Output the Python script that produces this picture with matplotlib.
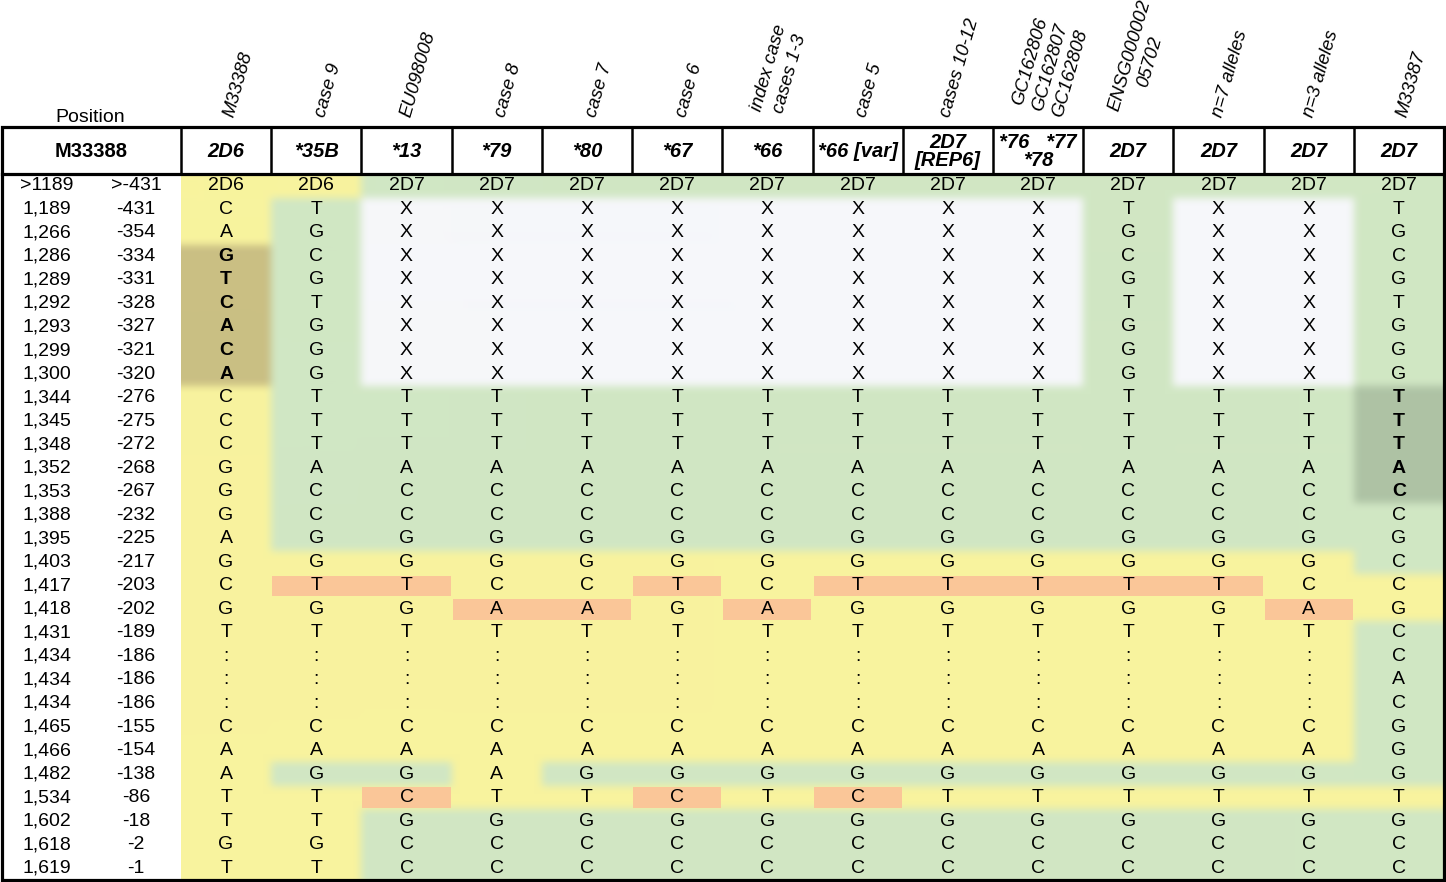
import numpy as np
import matplotlib
matplotlib.use('Agg')
import matplotlib.pyplot as plt
from matplotlib.patches import Rectangle

plt.rcParams['font.family'] = ['Liberation Sans', 'DejaVu Sans']

# column labels (rotated) and allele names in the header row
col_labels = ['M33388', 'case 9', 'EU098008', 'case 8', 'case 7', 'case 6',
              'index case\ncases 1-3', 'case 5', 'cases 10-12',
              'GC162806\nGC162807\nGC162808', 'ENSG000002\n05702',
              'n=7 alleles', 'n=3 alleles', 'M33387']
alleles = ['2D6', '*35B', '*13', '*79', '*80', '*67', '*66', '*66 [var]',
           '2D7\n[REP6]', '*76   *77\n*78', '2D7', '2D7', '2D7', '2D7']

pos_abs = ['>1189', '1,189', '1,266', '1,286', '1,289', '1,292', '1,293', '1,299',
           '1,300', '1,344', '1,345', '1,348', '1,352', '1,353', '1,388', '1,395',
           '1,403', '1,417', '1,418', '1,431', '1,434', '1,434', '1,434', '1,465',
           '1,466', '1,482', '1,534', '1,602', '1,618', '1,619']
pos_rel = ['>-431', '-431', '-354', '-334', '-331', '-328', '-327', '-321',
           '-320', '-276', '-275', '-272', '-268', '-267', '-232', '-225',
           '-217', '-203', '-202', '-189', '-186', '-186', '-186', '-155',
           '-154', '-138', '-86', '-18', '-2', '-1']

origin = ['2D6', '2D6'] + ['2D7'] * 12
bases = [
    'CTXXXXXXXXTXXT', 'AGXXXXXXXXGXXG', 'GCXXXXXXXXCXXC', 'TGXXXXXXXXGXXG',
    'CTXXXXXXXXTXXT', 'AGXXXXXXXXGXXG', 'CGXXXXXXXXGXXG', 'AGXXXXXXXXGXXG',
    'CTTTTTTTTTTTTT', 'CTTTTTTTTTTTTT', 'CTTTTTTTTTTTTT', 'GAAAAAAAAAAAAA',
    'GCCCCCCCCCCCCC', 'GCCCCCCCCCCCCC', 'AGGGGGGGGGGGGG', 'GGGGGGGGGGGGGC',
    'CTTCCTCTTTTTCC', 'GGGAAGAGGGGGAG', 'TTTTTTTTTTTTTC', ':::::::::::::C',
    ':::::::::::::A', ':::::::::::::C', 'CCCCCCCCCCCCCG', 'AAAAAAAAAAAAAG',
    'AGGAGGGGGGGGGG', 'TTCTTCTCTTTTTT', 'TTGGGGGGGGGGGG', 'GGCCCCCCCCCCCC',
    'TTCCCCCCCCCCCC',
]

# y = 2D6-like, g = 2D7-like, x = no data, o = variant, d/m = bold blocks
shade = [
    'yygggggggggggg',
    'ygxxxxxxxxgxxg', 'ygxxxxxxxxgxxg',
    'dgxxxxxxxxgxxg', 'dgxxxxxxxxgxxg', 'dgxxxxxxxxgxxg',
    'dgxxxxxxxxgxxg', 'dgxxxxxxxxgxxg', 'dgxxxxxxxxgxxg',
    'yggggggggggggm', 'yggggggggggggm', 'yggggggggggggm',
    'yggggggggggggm', 'yggggggggggggm',
    'yggggggggggggg', 'yggggggggggggg',
    'yyyyyyyyyyyyyg',
    'yooyyoyoooooyy',
    'yyyooyoyyyyyoy',
    'yyyyyyyyyyyyyg', 'yyyyyyyyyyyyyg', 'yyyyyyyyyyyyyg',
    'yyyyyyyyyyyyyg', 'yyyyyyyyyyyyyg', 'yyyyyyyyyyyyyg',
    'yggygggggggggg',
    'yyoyyoyoyyyyyy',
    'yygggggggggggg', 'yygggggggggggg', 'yygggggggggggg',
]

colors = {'y': (248, 243, 158), 'g': (209, 231, 196), 'x': (246, 247, 250),
          'o': (250, 198, 152), 'd': (202, 191, 132), 'm': (174, 195, 165)}

# layout in pixels
W, H = 1446, 882
left, right = 2, 1444
first_w = 179
top, head_bot, bottom = 127, 174, 880
ncol = len(alleles)
nrow = len(pos_abs)
cw = (right - left - first_w) / ncol
rh = (bottom - head_bot) / nrow
x0 = left + first_w


def box_blur(a, r, axis):
    pad = [(0, 0)] * a.ndim
    pad[axis] = (r + 1, r)
    p = np.pad(a, pad, mode='edge')
    c = np.cumsum(p, axis=axis)
    n = a.shape[axis]
    hi = np.take(c, np.arange(2 * r + 1, 2 * r + 1 + n), axis=axis)
    lo = np.take(c, np.arange(0, n), axis=axis)
    return (hi - lo) / (2 * r + 1)


# background colour grid, softened like the original
ph, pw = bottom - head_bot, right - x0
img = np.ones((ph, pw, 3))
for r in range(nrow):
    ya, yb = int(round(r * rh)), int(round((r + 1) * rh))
    for c in range(ncol):
        xa, xb = int(round(c * cw)), int(round((c + 1) * cw))
        k = shade[r][c]
        if k == 'o':
            k = 'y'
        img[ya:yb, xa:xb] = np.array(colors[k]) / 255
for _ in range(2):
    img = box_blur(img, 4, 0)
    img = box_blur(img, 4, 1)

fig = plt.figure(figsize=(W / 100, H / 100), dpi=100)
ax = fig.add_axes([0, 0, 1, 1])
ax.imshow(img, extent=(x0, right, bottom, head_bot), origin='upper',
          aspect='auto', interpolation='bilinear', zorder=0)

# sharp orange variant cells, merged along runs
for r in range(nrow):
    c = 0
    while c < ncol:
        if shade[r][c] == 'o':
            s = c
            while c < ncol and shade[r][c] == 'o':
                c += 1
            ax.add_patch(Rectangle((x0 + s * cw + 1, head_bot + r * rh + 1.5),
                                   (c - s) * cw - 2, rh - 3, lw=0,
                                   facecolor=np.array(colors['o']) / 255, zorder=1))
        else:
            c += 1

fs = 14
# cell text
for r in range(nrow):
    yc = head_bot + (r + 0.5) * rh
    ax.text(47, yc, pos_abs[r], ha='center', va='center', fontsize=fs)
    ax.text(136, yc, pos_rel[r], ha='center', va='center', fontsize=fs)
    for c in range(ncol):
        xc = x0 + (c + 0.5) * cw
        if r == 0:
            s = origin[c]
        else:
            s = bases[r - 1][c]
        bold = shade[r][c] in 'dm'
        ax.text(xc, yc, s, ha='center', va='center', fontsize=fs,
                fontweight='bold' if bold else 'normal', zorder=3)

# header row
hc = (top + head_bot) / 2
ax.text(left + first_w / 2, hc + 1, 'M33388', ha='center', va='center',
        fontsize=14.5, fontweight='bold')
for c in range(ncol):
    xc = x0 + (c + 0.5) * cw
    ax.text(xc, hc + 1, alleles[c], ha='center', va='center', fontsize=14.5,
            fontweight='bold', fontstyle='italic', linespacing=1.0)
    ax.text(xc + 12, 119, col_labels[c], ha='center', va='bottom', rotation=74,
            fontsize=13.4, fontstyle='italic', multialignment='center',
            linespacing=1.3)

ax.text(90, 122, 'Position', ha='center', va='baseline', fontsize=14)

# frame and header lines
ax.add_patch(Rectangle((left, top), right - left, bottom - top, fill=False,
                       lw=2.3, edgecolor='black', zorder=4))
ax.plot([left, right], [head_bot, head_bot], color='black', lw=2.3, zorder=4)
for c in range(ncol):
    xv = x0 + c * cw
    ax.plot([xv, xv], [top, head_bot], color='black', lw=1.8, zorder=4)

ax.set_xlim(0, W)
ax.set_ylim(H, 0)
ax.axis('off')
fig.savefig('out.png', dpi=100)
